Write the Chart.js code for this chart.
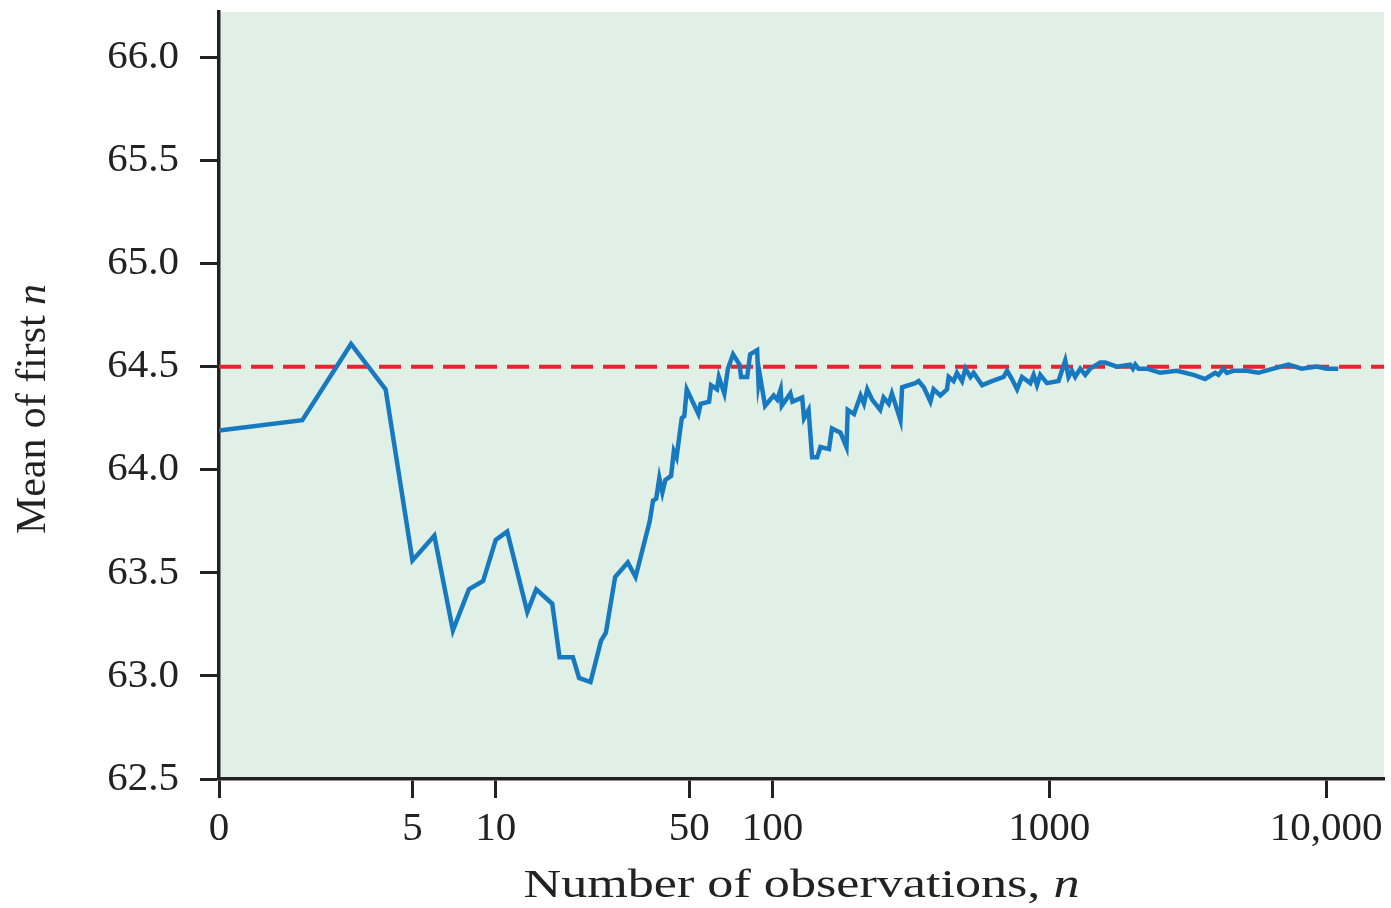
<!DOCTYPE html>
<html>
<head>
<meta charset="utf-8">
<script src="https://cdn.jsdelivr.net/npm/chart.js@4.4.1/dist/chart.umd.min.js"></script>
<style>
  body { margin: 0; background: #fff; }
  canvas { display: block; }
</style>
</head>
<body>
<canvas id="meanChart" width="1391" height="908"></canvas>
<script>
// Running mean of the first n observations
const sampleSize = [
  1, 2, 3, 4, 5, 6, 7, 8, 9, 10,
  11, 13, 14, 16, 17, 19, 20, 22, 24, 25,
  27, 30, 32, 36, 37, 38, 39, 40, 41, 43,
  44, 45, 47, 48, 49, 54, 55, 59, 60, 63,
  64, 67, 69, 72, 76, 77, 81, 83, 88, 89,
  90, 94, 101, 104, 107, 108, 116, 118, 128, 130,
  135, 139, 145, 149, 160, 164, 176, 185, 187, 197,
  208, 214, 220, 229, 245, 252, 263, 270, 290, 294,
  328, 337, 352, 372, 382, 404, 427, 433, 451, 464,
  484, 498, 519, 533, 572, 621, 684, 704, 733, 765,
  797, 854, 878, 903, 928, 981, 1080, 1142, 1174, 1208,
  1241, 1294, 1349, 1406, 1528, 1593, 1755, 1961, 2006, 2045,
  2101, 2253, 2516, 2891, 3320, 3658, 3976, 4086, 4259, 4381,
  4628, 5172, 5696, 6452, 7310, 8172, 9257, 10058, 11077
];
const meanValues = [
  64.19, 64.24, 64.61, 64.39, 63.56, 63.68, 63.22, 63.42, 63.46, 63.66,
  63.70, 63.31, 63.42, 63.35, 63.09, 63.09, 62.99, 62.97, 63.17, 63.21,
  63.48, 63.55, 63.48, 63.75, 63.85, 63.86, 63.96, 63.89, 63.95, 63.97,
  64.09, 64.06, 64.25, 64.26, 64.39, 64.27, 64.32, 64.33, 64.41, 64.39,
  64.45, 64.37, 64.49, 64.56, 64.51, 64.45, 64.45, 64.56, 64.58, 64.42,
  64.46, 64.31, 64.36, 64.34, 64.39, 64.31, 64.37, 64.33, 64.35, 64.25,
  64.29, 64.06, 64.06, 64.11, 64.10, 64.20, 64.18, 64.11, 64.29, 64.27,
  64.36, 64.32, 64.39, 64.34, 64.29, 64.35, 64.32, 64.37, 64.24, 64.40,
  64.42, 64.43, 64.40, 64.33, 64.39, 64.36, 64.39, 64.45, 64.43, 64.47,
  64.43, 64.49, 64.45, 64.47, 64.41, 64.43, 64.45, 64.48, 64.44, 64.39,
  64.45, 64.42, 64.46, 64.41, 64.46, 64.42, 64.43, 64.53, 64.45, 64.48,
  64.45, 64.49, 64.46, 64.49, 64.52, 64.52, 64.50, 64.51, 64.49, 64.51,
  64.49, 64.49, 64.47, 64.48, 64.46, 64.44, 64.47, 64.46, 64.49, 64.47,
  64.48, 64.48, 64.47, 64.49, 64.51, 64.49, 64.50, 64.49, 64.49
];
const trueMean = 64.5;

const xTicks = [1, 5, 10, 50, 100, 1000, 10000];
const xTickLabels = ['0', '5', '10', '50', '100', '1000', '10,000'];
const yTicks = [62.5, 63.0, 63.5, 64.0, 64.5, 65.0, 65.5, 66.0];

const xMin = 1, xMax = 16200;
const yMin = 62.5, yMax = 66.22;

const ink = '#222222';
const serif = '"Liberation Serif", "DejaVu Serif", serif';

// mint background behind the plot
const plotBackground = {
  id: 'plotBackground',
  beforeDraw(chart) {
    const a = chart.chartArea;
    const ctx = chart.ctx;
    ctx.save();
    ctx.fillStyle = '#e1f0e6';
    ctx.fillRect(a.left, a.top, a.right - a.left, a.bottom - a.top);
    ctx.restore();
  }
};

// axis titles, with the italic n
function drawMixed(ctx, parts, targetWidth) {
  let w = 0;
  parts.forEach(p => { ctx.font = p.font; p.w = ctx.measureText(p.text).width; w += p.w; });
  ctx.scale(targetWidth / w, 1);
  let x = -w / 2;
  parts.forEach(p => { ctx.font = p.font; ctx.fillText(p.text, x, 0); x += p.w; });
}

const axisTitles = {
  id: 'axisTitles',
  afterDraw(chart) {
    const ctx = chart.ctx;
    const a = chart.chartArea;
    ctx.save();
    ctx.fillStyle = ink;
    ctx.textBaseline = 'alphabetic';
    ctx.translate((a.left + a.right) / 2, 897);
    drawMixed(ctx, [
      { text: 'Number of observations, ', font: '41px ' + serif },
      { text: 'n', font: 'italic 41px ' + serif }
    ], 556);
    ctx.restore();

    ctx.save();
    ctx.fillStyle = ink;
    ctx.translate(45, 409);
    ctx.rotate(-Math.PI / 2);
    drawMixed(ctx, [
      { text: 'Mean of first ', font: '42px ' + serif },
      { text: 'n', font: 'italic 42px ' + serif }
    ], 250);
    ctx.restore();
  }
};

const ctx = document.getElementById('meanChart').getContext('2d');
new Chart(ctx, {
  type: 'line',
  data: {
    datasets: [
      {
        label: 'Mean of first n',
        data: sampleSize.map((n, i) => ({ x: n, y: meanValues[i] })),
        borderColor: '#1779c0',
        borderWidth: 4.5,
        pointRadius: 0,
        tension: 0,
        order: 0
      },
      {
        label: 'True mean',
        data: [{ x: xMin, y: trueMean }, { x: xMax, y: trueMean }],
        borderColor: '#e8232b',
        borderWidth: 4,
        borderDash: [22, 10],
        pointRadius: 0,
        order: 1
      }
    ]
  },
  options: {
    responsive: false,
    animation: false,
    layout: { padding: { top: 12, right: 7, left: 0, bottom: 0 } },
    plugins: {
      legend: { display: false },
      tooltip: { enabled: false }
    },
    scales: {
      x: {
        type: 'logarithmic',
        min: xMin,
        max: xMax,
        afterBuildTicks: scale => { scale.ticks = xTicks.map(v => ({ value: v })); },
        afterFit: scale => { scale.height = 129; scale.paddingLeft = 0; scale.paddingRight = 0; },
        ticks: {
          autoSkip: false,
          maxRotation: 0,
          padding: 7,
          color: ink,
          font: { family: serif, size: 41 },
          callback: (v) => xTickLabels[xTicks.indexOf(v)]
        },
        grid: { drawOnChartArea: false, drawTicks: true, tickLength: 19, tickWidth: 3, tickColor: ink },
        border: { display: true, color: ink, width: 3.5 }
      },
      y: {
        min: yMin,
        max: yMax,
        afterBuildTicks: scale => { scale.ticks = yTicks.map(v => ({ value: v })); },
        afterFit: scale => { scale.width = 219; scale.paddingTop = 0; scale.paddingBottom = 0; },
        ticks: {
          padding: 21,
          color: ink,
          font: { family: serif, size: 41 },
          callback: v => v.toFixed(1)
        },
        grid: { drawOnChartArea: false, drawTicks: true, tickLength: 19, tickWidth: 3, tickColor: ink },
        border: { display: true, color: ink, width: 3.5 }
      }
    }
  },
  plugins: [plotBackground, axisTitles]
});
</script>
</body>
</html>
